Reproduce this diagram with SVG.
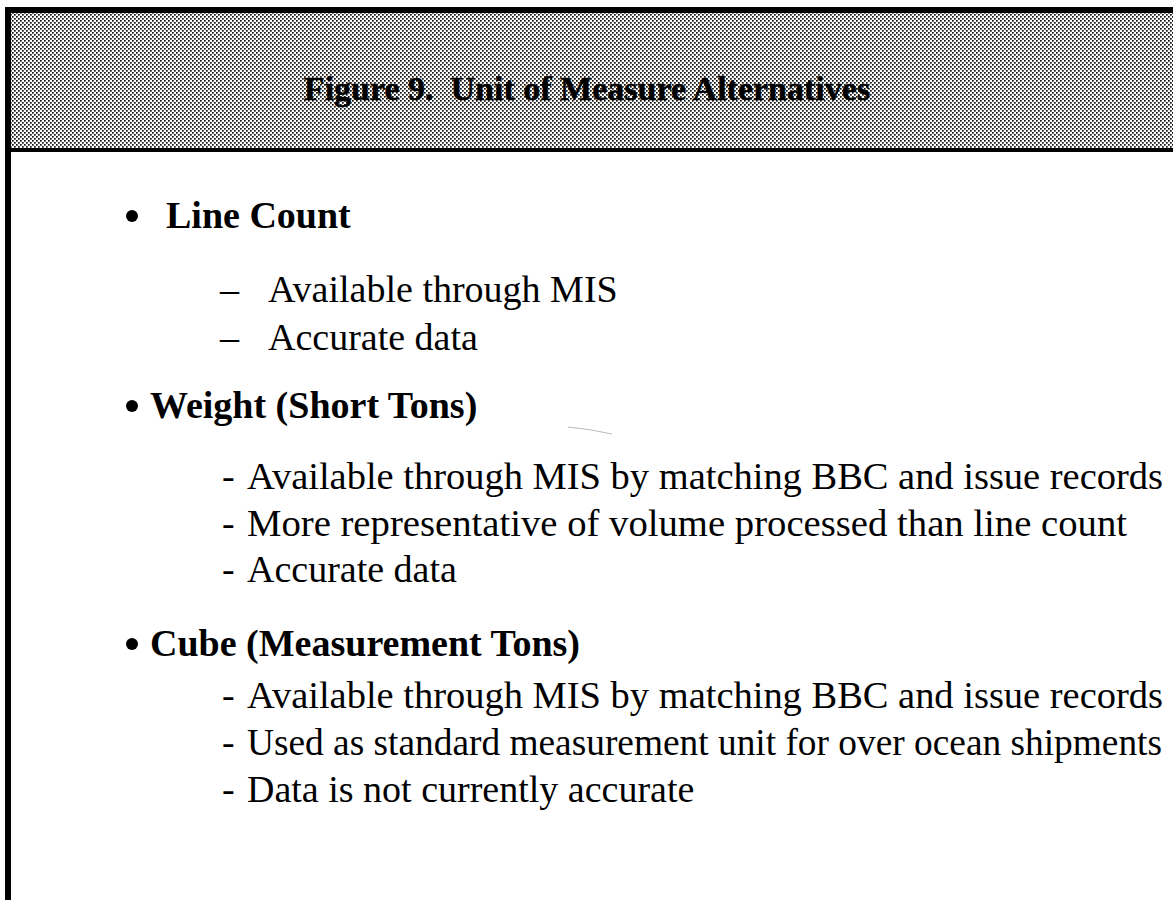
<svg xmlns="http://www.w3.org/2000/svg" width="1173" height="900" viewBox="0 0 1173 900">
<style>
.t{font-family:"Liberation Serif","Times New Roman",serif;fill:#000}
.h{font-weight:bold;font-size:38px}
.s{font-size:38px}
.ttl{font-weight:bold;font-size:34px;stroke:#000;stroke-width:0.5}
</style>
<defs>
<pattern id="dots" width="4" height="4" patternUnits="userSpaceOnUse">
<rect width="4" height="4" fill="#fff"/>
<rect x="0" y="0" width="1.7" height="1.7" fill="#111"/>
<rect x="2" y="2" width="1.7" height="1.7" fill="#111"/>
</pattern>
</defs>
<rect width="1173" height="900" fill="#fff"/>
<g id="header">
<rect x="10" y="12" width="1163" height="140" fill="url(#dots)"/>
<line x1="7" y1="150" x2="1173" y2="150" stroke="#000" stroke-width="4"/>
<text class="t ttl" x="587" y="100" text-anchor="middle" xml:space="preserve">Figure 9.  Unit of Measure Alternatives</text>
</g>
<g id="frame">
<line x1="7" y1="10" x2="1173" y2="10" stroke="#000" stroke-width="6"/>
<line x1="8" y1="7" x2="8" y2="900" stroke="#000" stroke-width="6"/>
</g>
<g id="line-count">
<circle cx="132" cy="216" r="6"/>
<text class="t h" x="166" y="228">Line Count</text>
<text class="t s" x="220" y="302">–</text>
<text class="t s" x="268" y="302">Available through MIS</text>
<text class="t s" x="220" y="350">–</text>
<text class="t s" x="268" y="350">Accurate data</text>
</g>
<g id="weight">
<circle cx="132" cy="406" r="6"/>
<text class="t h" x="150" y="418">Weight (Short Tons)</text>
<text class="t s" x="222" y="489">-</text>
<text class="t s" x="247" y="489" textLength="916" lengthAdjust="spacingAndGlyphs">Available through MIS by matching BBC and issue records</text>
<text class="t s" x="222" y="536">-</text>
<text class="t s" x="247" y="536" textLength="880" lengthAdjust="spacingAndGlyphs">More representative of volume processed than line count</text>
<text class="t s" x="222" y="582">-</text>
<text class="t s" x="247" y="582">Accurate data</text>
</g>
<path d="M568 427 Q590 429 612 434" fill="none" stroke="#bbb" stroke-width="1"/>
<g id="cube">
<circle cx="132" cy="644" r="6"/>
<text class="t h" x="150" y="656">Cube (Measurement Tons)</text>
<text class="t s" x="222" y="708">-</text>
<text class="t s" x="247" y="708" textLength="916" lengthAdjust="spacingAndGlyphs">Available through MIS by matching BBC and issue records</text>
<text class="t s" x="222" y="755">-</text>
<text class="t" x="247" y="755" font-size="37" textLength="915" lengthAdjust="spacingAndGlyphs">Used as standard measurement unit for over ocean shipments</text>
<text class="t s" x="222" y="802">-</text>
<text class="t s" x="247" y="802">Data is not currently accurate</text>
</g>
</svg>
